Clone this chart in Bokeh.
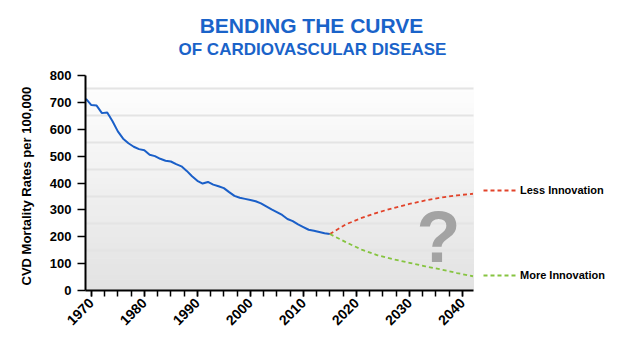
import math
from bokeh.plotting import figure
from bokeh.models import (Range1d, Label, Legend, LegendItem, SingleIntervalTicker,
                          FixedTicker, Grid, Title)
from bokeh.embed import file_html
from bokeh.resources import INLINE

# ---------------- data ----------------
hist_years = list(range(1969, 2016))
hist_values = [713, 690, 688, 660, 662, 630, 592, 565, 548, 535,
               526, 522, 505, 500, 490, 483, 480, 470, 462, 445,
               425, 408, 398, 404, 394, 388, 381, 366, 352, 345,
               341, 337, 332, 324, 313, 302, 292, 281, 266, 258,
               246, 236, 226, 222, 218, 213, 210]

proj_years = [2015, 2018, 2021, 2024, 2027, 2030, 2033, 2036, 2039, 2042]
less_values = [210, 246, 270, 290, 307, 322, 335, 346, 354, 360]
more_values = [210, 180, 152, 131, 116, 103, 90, 78, 65, 53]

y_ticks = [0, 100, 200, 300, 400, 500, 600, 700, 800]
grid_levels = [50, 150, 250, 350, 450, 550, 650, 750]

title_line1 = "BENDING THE CURVE"
title_line2 = "OF CARDIOVASCULAR DISEASE"
y_label = "CVD Mortality Rates per 100,000"
less_label = "Less Innovation"
more_label = "More Innovation"

FONT = "Liberation Sans"
X0, X1 = 1968.9, 2042.1     # plotted data area
Y0, Y1 = 0, 800

# The frame covers the whole canvas right of the y axis and above the x axis,
# so that titles and the legend (outside the data area) are not clipped.
W, H = 627, 347
LEFT, BOTTOM = 85, 57
AREA_W = 388                # pixel width of the data area (85 -> 473)
AREA_H = 215                # pixel height of the data area (75 -> 290)
px_per_x = AREA_W / (X1 - X0)
px_per_y = AREA_H / (Y1 - Y0)
frame_w = W - LEFT
frame_h = H - BOTTOM
xr = Range1d(X0, X0 + frame_w / px_per_x)
yr = Range1d(Y0, Y0 + frame_h / px_per_y)

p = figure(width=W, height=H, output_backend="svg", toolbar_location=None,
           x_range=xr, y_range=yr,
           min_border_left=LEFT, min_border_right=0, min_border_top=0,
           min_border_bottom=BOTTOM)
p.outline_line_color = None
p.background_fill_color = "white"
p.border_fill_color = "white"

# gradient background of the data area (white top -> light gray bottom)
n = 40
bottoms = [Y1 * i / n for i in range(n)]
tops = [Y1 * (i + 1) / n for i in range(n)]
cols = []
for i in range(n):
    t = (i + 0.5) / n
    g = int(round(226 + (255 - 226) * t))
    cols.append("#%02x%02x%02x" % (g, g, g))
bg = p.quad(left=[X0] * n, right=[X1] * n, bottom=bottoms, top=tops,
            fill_color=cols, line_color=cols, line_width=1)
bg.level = "image"

# grid (horizontal lines, limited to the data area)
p.xgrid.visible = False
yg = p.ygrid[0]
yg.ticker = FixedTicker(ticks=grid_levels)
yg.grid_line_color = "#e4e4e4"
yg.grid_line_width = 2
if "cross_bounds" in Grid.properties():
    yg.cross_bounds = (X0, X1)
else:
    yg.visible = False
    p.segment(x0=[X0] * len(grid_levels), x1=[X1] * len(grid_levels),
              y0=grid_levels, y1=grid_levels, line_color="#e4e4e4",
              line_width=2, level="underlay")

# lines
p.line(hist_years, hist_values, line_color="#1a5fc8", line_width=2)
r_less = p.line(proj_years, less_values, line_color="#e2432a", line_width=1.8,
                line_dash="4 3")
r_more = p.line(proj_years, more_values, line_color="#86c440", line_width=1.8,
                line_dash="4 3")

# axes
xa = p.xaxis[0]
xa.bounds = (X0, X1)
xa.ticker = SingleIntervalTicker(interval=10, num_minor_ticks=4)
xa.axis_line_width = 2
xa.axis_line_color = "black"
xa.major_tick_line_color = "black"
xa.major_tick_line_width = 1.5
xa.minor_tick_line_color = "black"
xa.minor_tick_line_width = 1.5
xa.major_tick_in = 0
xa.major_tick_out = 6
xa.minor_tick_in = 0
xa.minor_tick_out = 6
xa.major_label_orientation = math.pi / 4
xa.major_label_text_font = FONT
xa.major_label_text_font_style = "bold"
xa.major_label_text_font_size = "14px"
xa.major_label_text_color = "black"
xa.major_label_standoff = 4

ya = p.yaxis[0]
ya.bounds = (Y0, Y1)
ya.ticker = FixedTicker(ticks=y_ticks)
ya.axis_line_width = 2
ya.axis_line_color = "black"
ya.major_tick_line_color = "black"
ya.major_tick_line_width = 1.5
ya.major_tick_in = 0
ya.major_tick_out = 8
ya.minor_tick_line_color = None
ya.major_label_text_font = FONT
ya.major_label_text_font_style = "bold"
ya.major_label_text_font_size = "13px"
ya.major_label_text_color = "black"
ya.major_label_standoff = 6

# y-axis title: a left-side Title so it can be centred on the data area
# (align="left" starts the upward-reading text 5 px above the x axis)
ytitle = Title(text=y_label, align="left", offset=5, standoff=26,
               text_font=FONT, text_font_style="bold", text_font_size="13px",
               text_color="black")
p.add_layout(ytitle, "left")

# big question mark
p.add_layout(Label(x=2035.5, y=200, text="?", text_font=FONT, text_font_style="bold",
                   text_font_size="72px", text_color="#a3a3a3",
                   text_align="center", text_baseline="middle"))

# titles (screen units relative to the frame's bottom-left corner)
frame_bottom_px = H - BOTTOM
p.add_layout(Label(x=311 - LEFT, y=frame_bottom_px - 13, x_units="screen",
                   y_units="screen", text=title_line1, text_font=FONT,
                   text_font_style="bold", text_font_size="21px",
                   text_color="#1a63c9", text_align="center",
                   text_baseline="top"))
p.add_layout(Label(x=312 - LEFT, y=frame_bottom_px - 39, x_units="screen",
                   y_units="screen", text=title_line2, text_font=FONT,
                   text_font_style="bold", text_font_size="17px",
                   text_color="#1a63c9", text_align="center",
                   text_baseline="top"))

# legend right of the data area
legend = Legend(items=[LegendItem(label=less_label, renderers=[r_less]),
                       LegendItem(label=more_label, renderers=[r_more])],
                location=(AREA_W + 10, 5), orientation="vertical",
                padding=0, margin=0, spacing=65,
                glyph_width=34, glyph_height=20, label_height=20,
                label_standoff=3, border_line_color=None,
                background_fill_alpha=0,
                label_text_font=FONT, label_text_font_style="bold",
                label_text_font_size="11px", label_text_color="black")
p.add_layout(legend, "center")

open("out.html", "w").write(file_html(p, INLINE))
